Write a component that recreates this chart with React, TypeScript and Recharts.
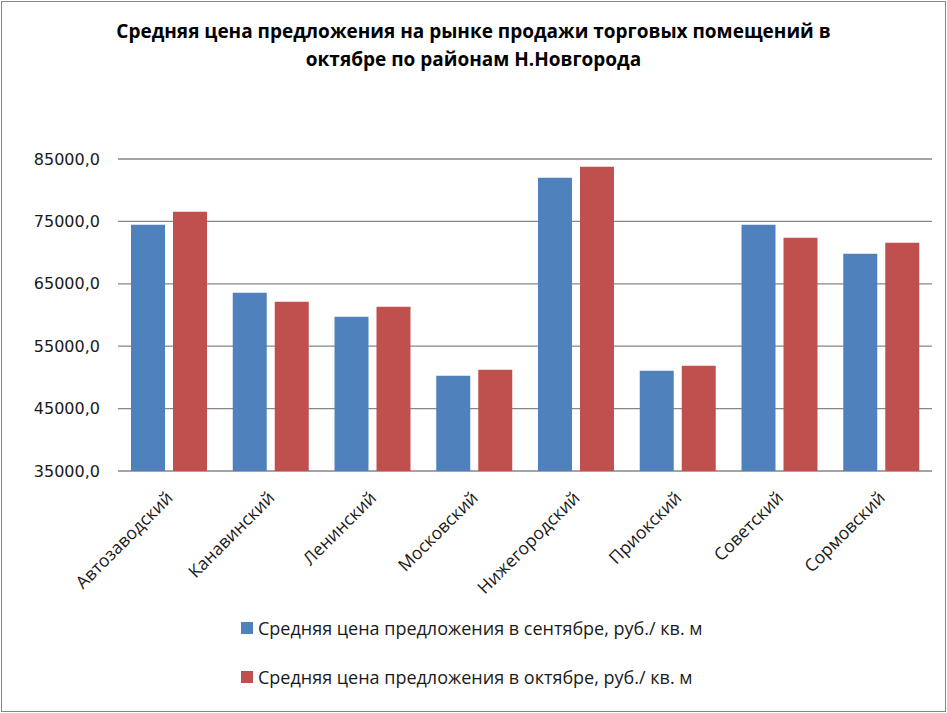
import React from 'react';
import { BarChart, Bar, XAxis, YAxis, CartesianGrid } from 'recharts';

const districts = ['Автозаводский', 'Канавинский', 'Ленинский', 'Московский', 'Нижегородский', 'Приокский', 'Советский', 'Сормовский'];
const september = [74470, 63570, 59730, 50270, 82000, 51070, 74470, 69820];
const october = [76550, 62130, 61330, 51230, 83770, 51880, 72390, 71590];
const yTicks = [35000, 45000, 55000, 65000, 75000, 85000];
const seriesNames = ['Средняя цена предложения в сентябре, руб./ кв. м', 'Средняя цена предложения в октябре, руб./ кв. м'];
const colors = ['#4F81BD', '#C0504D'];
const title1 = 'Средняя цена предложения на рынке продажи торговых помещений в';
const title2 = 'октябре по районам Н.Новгорода';

const data = districts.map((d, i) => ({ name: d, sep: september[i], oct: october[i] }));

const XTick = (props: any) => {
  const { x, y, payload } = props;
  const ax = x + 5;
  const ay = y + 20;
  return (
    <text
      x={ax}
      y={ay}
      textAnchor="end"
      transform={`rotate(-45, ${ax}, ${ay})`}
      fontFamily="'Open Sans', sans-serif"
      fontSize={17.5}
      fill="#1a1a1a"
    >
      {payload.value}
    </text>
  );
};

export default function App() {
  return (
    <div style={{ position: 'absolute', left: 0, top: 0, width: 947, height: 713, background: '#fff' }}>
      <div style={{ position: 'absolute', left: 1, top: 1, width: 943, height: 709, border: '1px solid #868686' }} />
      <div
        style={{
          position: 'absolute',
          left: 0,
          top: 17,
          width: 947,
          textAlign: 'center',
          fontFamily: "'Open Sans', sans-serif",
          fontWeight: 'bold',
          fontSize: 19,
          lineHeight: '28px',
          color: '#000',
        }}
      >
        <div>{title1}</div>
        <div>{title2}</div>
      </div>
      <div style={{ position: 'absolute', left: 0, top: 0 }}>
        <BarChart
          width={947}
          height={713}
          data={data}
          margin={{ top: 159, right: 15, left: 18, bottom: 0 }}
          barSize={34}
          barGap={8}
        >
          <CartesianGrid vertical={false} stroke="#868686" strokeWidth={1.3} />
          <XAxis
            dataKey="name"
            interval={0}
            tick={<XTick />}
            tickLine={false}
            axisLine={false}
            height={242}
          />
          <YAxis
            domain={[35000, 85000]}
            ticks={yTicks}
            width={100}
            tickLine={false}
            axisLine={false}
            tickSize={0}
            tickMargin={18}
            tickFormatter={(v: number) => v.toFixed(1).replace('.', ',')}
            tick={{ fontFamily: "'DejaVu Sans', sans-serif", fontSize: 16, fill: '#1a1a1a' }}
          />
          <Bar dataKey="sep" name={seriesNames[0]} fill={colors[0]} isAnimationActive={false} />
          <Bar dataKey="oct" name={seriesNames[1]} fill={colors[1]} isAnimationActive={false} />
        </BarChart>
      </div>
      <div
        style={{
          position: 'absolute',
          left: 241,
          top: 603,
          fontFamily: "'Open Sans', sans-serif",
          fontSize: 18,
          color: '#1a1a1a',
        }}
      >
        {seriesNames.map((n, i) => (
          <div key={n} style={{ display: 'flex', alignItems: 'center', height: 49 }}>
            <span style={{ display: 'inline-block', width: 12, height: 12, background: colors[i], marginRight: 5 }} />
            <span>{n}</span>
          </div>
        ))}
      </div>
    </div>
  );
}
